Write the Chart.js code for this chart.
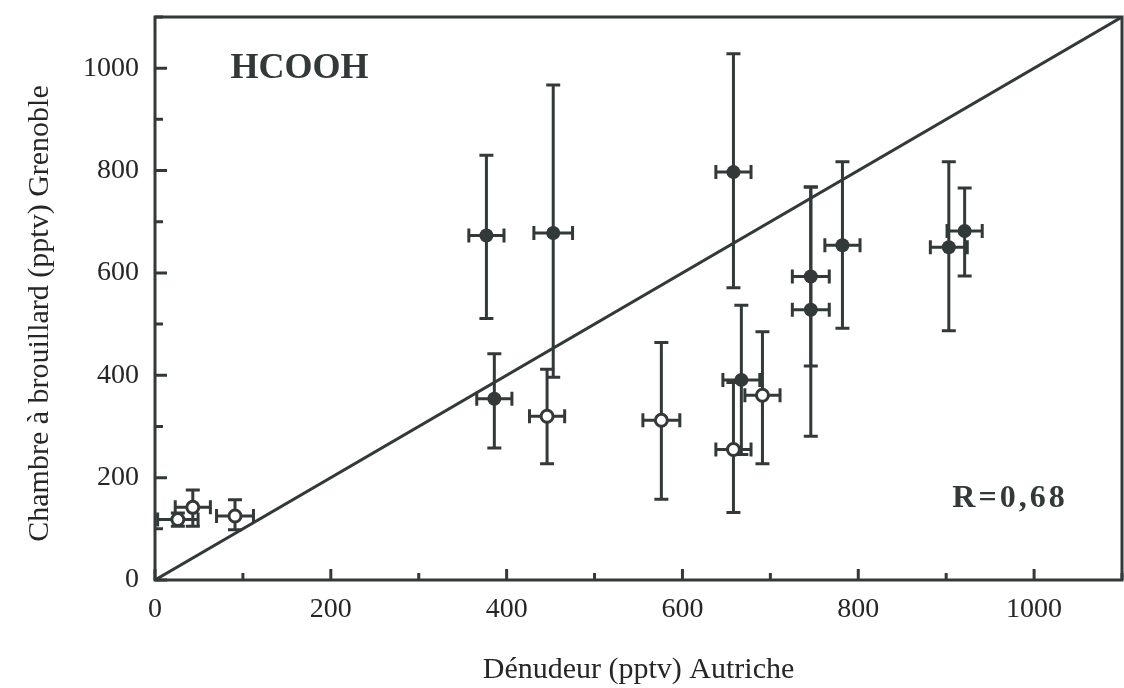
<!DOCTYPE html>
<html>
<head>
<meta charset="utf-8">
<script src="https://cdn.jsdelivr.net/npm/chart.js@4.4.1/dist/chart.umd.min.js"></script>
<style>
  html, body { margin: 0; padding: 0; background: #fff; }
</style>
</head>
<body>
<canvas id="chart" width="1124" height="688"></canvas>
<script>
// filled markers (value, error bars)
const filledX = [377, 453, 386, 658, 746, 746, 782, 903, 921, 667];
const filledY = [673, 678, 354, 797, 593, 528, 654, 650, 682, 391];
const filledXErr = [20, 22, 20, 20, 21, 21, 20, 21, 20, 21];
const filledYLow = [511, 396, 258, 571, 418, 281, 492, 487, 594, 245];
const filledYHigh = [830, 967, 442, 1028, 768, 768, 817, 817, 766, 537];

// open markers
const openX = [26, 43, 91, 446, 576, 658, 691];
const openY = [118, 142, 125, 320, 312, 255, 361];
const openXErr = [23, 20, 21, 20, 21, 20, 20];
const openYLow = [105, 105, 98, 227, 158, 132, 227];
const openYHigh = [131, 176, 157, 412, 464, 386, 485];

// 1:1 line and axes
const oneToOne = [0, 1100];
const axisMin = 0, axisMax = 1100, tickStep = 100, labelStep = 200;
const xTitle = 'Dénudeur (pptv) Autriche';
const yTitle = 'Chambre à brouillard (pptv) Grenoble';
const species = 'HCOOH';
const rLabel = 'R=0,68';

const ink = '#323938';
const textInk = '#262626';
const serif = 'Liberation Serif';

function toPoints(xs, ys, xErr, lo, hi) {
  return xs.map((x, i) => ({ x, y: ys[i], xErr: xErr[i], yLow: lo[i], yHigh: hi[i] }));
}

const errorBars = {
  id: 'errorBars',
  beforeDatasetsDraw(chart) {
    const { ctx, scales: { x, y } } = chart;
    const cap = 7;
    ctx.save();
    ctx.strokeStyle = ink;
    ctx.lineWidth = 3;
    chart.data.datasets.forEach(ds => {
      if (!ds.errorBars) return;
      ds.data.forEach(p => {
        const px = x.getPixelForValue(p.x), py = y.getPixelForValue(p.y);
        const xl = x.getPixelForValue(p.x - p.xErr), xr = x.getPixelForValue(p.x + p.xErr);
        const yt = y.getPixelForValue(p.yHigh), yb = y.getPixelForValue(p.yLow);
        ctx.beginPath();
        ctx.moveTo(xl, py); ctx.lineTo(xr, py);
        ctx.moveTo(xl, py - cap); ctx.lineTo(xl, py + cap);
        ctx.moveTo(xr, py - cap); ctx.lineTo(xr, py + cap);
        ctx.moveTo(px, yt); ctx.lineTo(px, yb);
        ctx.moveTo(px - cap, yt); ctx.lineTo(px + cap, yt);
        ctx.moveTo(px - cap, yb); ctx.lineTo(px + cap, yb);
        ctx.stroke();
      });
    });
    ctx.restore();
  }
};

const frame = {
  id: 'frame',
  afterDraw(chart) {
    const { ctx, chartArea: a, scales: { x, y } } = chart;
    ctx.save();
    ctx.strokeStyle = ink;
    ctx.lineWidth = 3;
    ctx.strokeRect(a.left, a.top, a.right - a.left, a.bottom - a.top);
    // inward ticks
    ctx.beginPath();
    x.ticks.forEach(t => {
      const p = x.getPixelForValue(t.value);
      const len = t.value % labelStep === 0 ? 11 : 7;
      ctx.moveTo(p, a.bottom); ctx.lineTo(p, a.bottom - len);
    });
    y.ticks.forEach(t => {
      const p = y.getPixelForValue(t.value);
      const len = t.value % labelStep === 0 ? 12 : 8;
      ctx.moveTo(a.left, p); ctx.lineTo(a.left + len, p);
    });
    ctx.stroke();

    ctx.fillStyle = ink;
    ctx.textBaseline = 'alphabetic';
    ctx.textAlign = 'left';
    ctx.font = 'bold 36px "' + serif + '"';
    ctx.fillText(species, x.getPixelForValue(86), y.getPixelForValue(980));
    ctx.font = 'bold 32px "' + serif + '"';
    ctx.letterSpacing = '3px';
    ctx.fillText(rLabel, x.getPixelForValue(907), y.getPixelForValue(143));
    ctx.restore();
  }
};

const tickFont = { family: serif, size: 28 };
const titleFont = { family: serif, size: 30 };

new Chart(document.getElementById('chart'), {
  type: 'scatter',
  data: {
    datasets: [
      {
        type: 'line',
        data: oneToOne.map(v => ({ x: v, y: v })),
        borderColor: ink,
        borderWidth: 3,
        pointRadius: 0,
        fill: false
      },
      {
        data: toPoints(filledX, filledY, filledXErr, filledYLow, filledYHigh),
        errorBars: true,
        pointRadius: 7,
        backgroundColor: ink,
        borderWidth: 0
      },
      {
        data: toPoints(openX, openY, openXErr, openYLow, openYHigh),
        errorBars: true,
        pointRadius: 6,
        backgroundColor: '#ffffff',
        borderColor: ink,
        borderWidth: 3
      }
    ]
  },
  options: {
    responsive: false,
    animation: false,
    layout: { autoPadding: false, padding: { top: 17, right: 2, left: 0, bottom: 0 } },
    plugins: { legend: { display: false }, tooltip: { enabled: false } },
    scales: {
      x: {
        type: 'linear',
        min: axisMin,
        max: axisMax,
        afterFit(s) { s.height = 108; s.paddingLeft = 0; s.paddingRight = 0; },
        border: { display: false },
        grid: { display: false, drawTicks: false, tickLength: 0 },
        ticks: {
          stepSize: tickStep,
          autoSkip: false,
          maxRotation: 0,
          padding: 13,
          color: textInk,
          font: tickFont,
          callback: v => (v % labelStep === 0 ? v : '')
        },
        title: { display: true, text: xTitle, color: textInk, font: titleFont, padding: { top: 0, bottom: 0 } }
      },
      y: {
        type: 'linear',
        min: axisMin,
        max: axisMax,
        afterFit(s) { s.width = 155; s.paddingTop = 0; s.paddingBottom = 0; },
        border: { display: false },
        grid: { display: false, drawTicks: false, tickLength: 0 },
        ticks: {
          stepSize: tickStep,
          autoSkip: false,
          padding: 16,
          color: textInk,
          font: tickFont,
          callback: v => (v % labelStep === 0 ? v : '')
        },
        title: { display: true, text: yTitle + '    ', color: textInk, font: titleFont, padding: { top: 22, bottom: 0 } }
      }
    }
  },
  plugins: [errorBars, frame]
});
</script>
</body>
</html>
